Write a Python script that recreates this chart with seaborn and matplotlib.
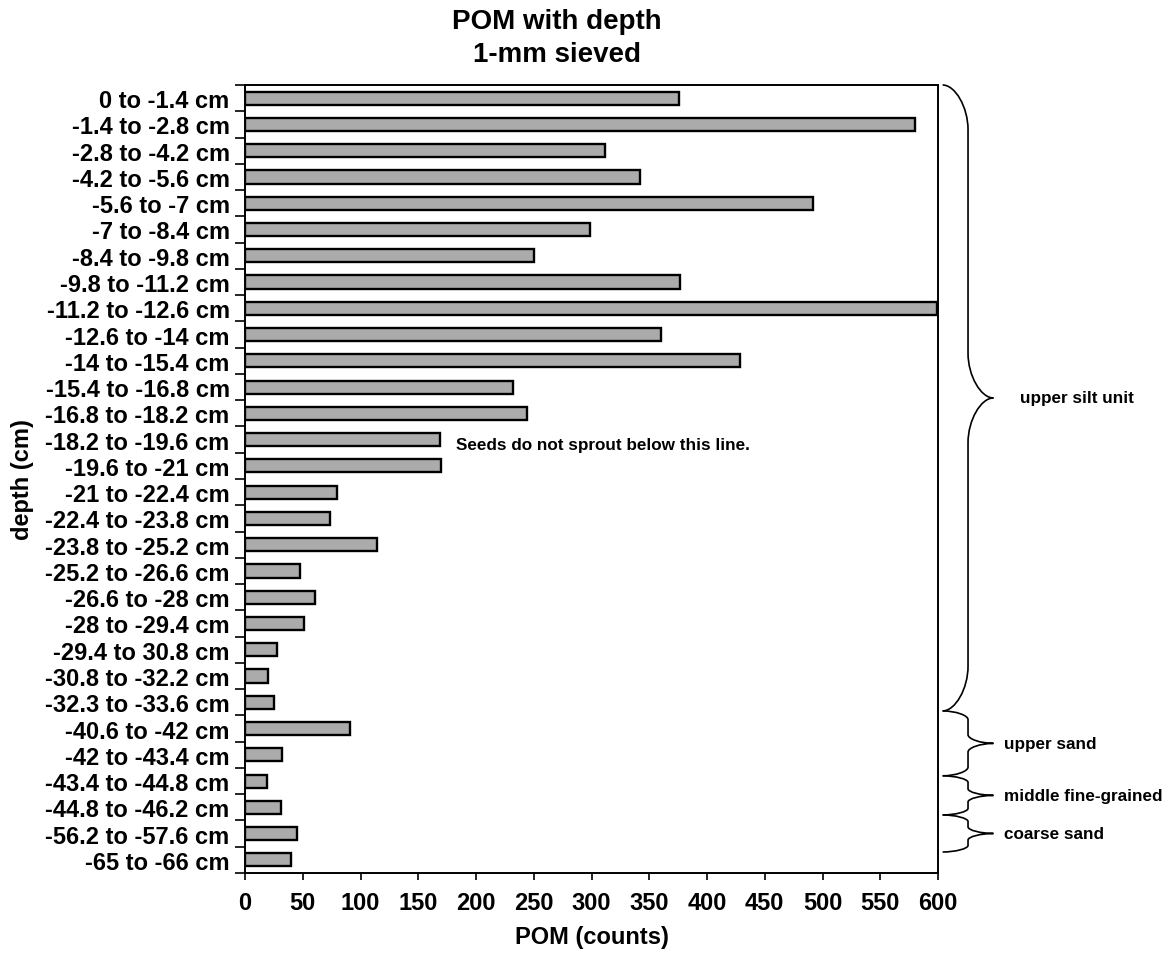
import matplotlib
matplotlib.use("Agg")
import matplotlib.pyplot as plt
import seaborn as sns
import pandas as pd
import numpy as np
from matplotlib.path import Path
from matplotlib.patches import PathPatch

# Depth intervals (top to bottom) and POM counts, 1-mm sieve fraction
depth_labels = [
    "0 to -1.4 cm", "-1.4 to -2.8 cm", "-2.8 to -4.2 cm", "-4.2 to -5.6 cm",
    "-5.6 to -7 cm", "-7 to -8.4 cm", "-8.4 to -9.8 cm", "-9.8 to -11.2 cm",
    "-11.2 to -12.6 cm", "-12.6 to -14 cm", "-14 to -15.4 cm", "-15.4 to -16.8 cm",
    "-16.8 to -18.2 cm", "-18.2 to -19.6 cm", "-19.6 to -21 cm", "-21 to -22.4 cm",
    "-22.4 to -23.8 cm", "-23.8 to -25.2 cm", "-25.2 to -26.6 cm", "-26.6 to -28 cm",
    "-28 to -29.4 cm", "-29.4 to 30.8 cm", "-30.8 to -32.2 cm", "-32.3 to -33.6 cm",
    "-40.6 to -42 cm", "-42 to -43.4 cm", "-43.4 to -44.8 cm", "-44.8 to -46.2 cm",
    "-56.2 to -57.6 cm", "-65 to -66 cm",
]
pom_counts = [
    376, 580, 312, 342, 492, 299, 250, 377, 599, 360,
    429, 232, 244, 169, 170, 80, 74, 114, 48, 61,
    51, 28, 20, 25, 91, 32, 19, 31, 45, 40,
]
x_ticks = list(range(0, 601, 50))

# Stratigraphic units: (name, top row edge, bottom row edge, curl size)
unit_names = ["upper silt unit", "upper sand", "middle fine-grained", "coarse sand"]
unit_tops = [-0.5, 23.33, 25.8, 27.29]
unit_bottoms = [23.33, 25.8, 27.29, 28.7]
unit_curls = [1.7, 0.33, 0.25, 0.25]

sns.set_style("ticks")
plt.rcParams["font.family"] = ["Liberation Sans", "DejaVu Sans"]
plt.rcParams["font.weight"] = "bold"
plt.rcParams["axes.labelweight"] = "bold"
for key in ["text.color", "axes.labelcolor", "xtick.color", "ytick.color", "axes.edgecolor"]:
    plt.rcParams[key] = "black"

fig = plt.figure(figsize=(11.69, 9.54), dpi=100)
ax = fig.add_axes([245 / 1169, 1 - 874 / 954, 693 / 1169, 788 / 954])

df = pd.DataFrame({"depth": depth_labels, "pom": pom_counts})
sns.barplot(data=df, y="depth", x="pom", orient="h", color="#ababab",
            saturation=1, edgecolor="black", linewidth=1.7, width=0.5, ax=ax)

ax.set_xlim(0, 600)
ax.set_ylim(len(depth_labels) - 0.5, -0.5)
ax.set_xticks(x_ticks)
ax.set_xticklabels([str(t) for t in x_ticks], fontsize=17, fontweight="bold")
ax.set_yticks(range(len(depth_labels)))
ax.set_yticklabels(depth_labels, fontsize=17, fontweight="bold")
ax.set_yticks(np.arange(-0.5, len(depth_labels), 1.0), minor=True)
ax.tick_params(axis="y", which="major", length=0, pad=11)
ax.tick_params(axis="y", which="minor", length=7, width=1.2, color="black", direction="out")
ax.tick_params(axis="x", which="major", length=5, width=1.2, color="black", pad=8)
for side in ["left", "bottom", "right", "top"]:
    ax.spines[side].set_visible(True)
    ax.spines[side].set_color("black")
    ax.spines[side].set_linewidth(1.4)

ax.set_xlabel("POM (counts)", fontsize=17, fontweight="bold", labelpad=8)
ax.set_ylabel("depth (cm)", fontsize=17, fontweight="bold")
ax.yaxis.set_label_coords(-0.305, 0.5)

fig.text(557 / 1169, 1 - 22 / 954, "POM with depth", ha="center", va="center",
         fontsize=20, fontweight="bold")
fig.text(557 / 1169, 1 - 55 / 954, "1-mm sieved", ha="center", va="center",
         fontsize=20, fontweight="bold")

ax.text(183, 13.2, "Seeds do not sprout below this line.", ha="left", va="center",
        fontsize=12.3, fontweight="bold")


def curly_brace(ax, y0, y1, r, xl=604, xm=626, xt=648):
    ym = (y0 + y1) / 2
    k = 0.5
    verts = [
        (xl, y0),
        (xl + (xm - xl) * k, y0), (xm, y0 + r * (1 - k)), (xm, y0 + r),
        (xm, ym - r),
        (xm, ym - r * (1 - k)), (xm + (xt - xm) * (1 - k), ym), (xt, ym),
        (xm + (xt - xm) * (1 - k), ym), (xm, ym + r * (1 - k)), (xm, ym + r),
        (xm, y1 - r),
        (xm, y1 - r * (1 - k)), (xl + (xm - xl) * k, y1), (xl, y1),
    ]
    codes = ([Path.MOVETO] + [Path.CURVE4] * 3 + [Path.LINETO] + [Path.CURVE4] * 6
             + [Path.LINETO] + [Path.CURVE4] * 3)
    patch = PathPatch(Path(verts, codes), fill=False, edgecolor="black",
                      linewidth=1.2, clip_on=False, transform=ax.transData)
    ax.add_patch(patch)
    return ym


for i, name in enumerate(unit_names):
    ym = curly_brace(ax, unit_tops[i], unit_bottoms[i], unit_curls[i])
    tx = 671 if i == 0 else 657
    ax.text(tx, ym, name, ha="left", va="center", fontsize=12.3,
            fontweight="bold", clip_on=False)

fig.savefig("out.png", dpi=100)
